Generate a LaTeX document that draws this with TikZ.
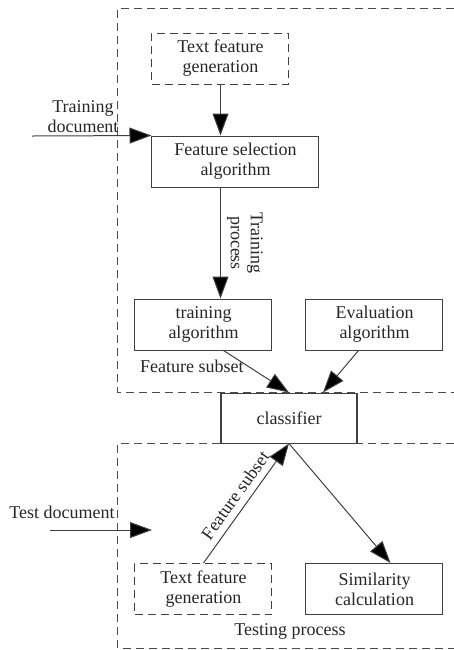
\documentclass[tikz,border=0pt]{standalone}
\usepackage{fontspec}
\setmainfont{Liberation Serif}
\usetikzlibrary{arrows.meta}

\begin{document}
\begin{tikzpicture}[x=0.5pt,y=-0.5pt,
  every node/.style={font=\fontsize{9}{10}\selectfont,text=black!85},
  block/.style={draw=black!75,line width=0.5pt,align=center,inner sep=2pt,
    minimum width=68.5pt,minimum height=25.5pt},
  phase/.style={draw=black!70,line width=0.5pt,dash pattern=on 4pt off 2.5pt},
  flow/.style={draw=black!75,line width=0.5pt,-{Triangle[length=11pt,width=8pt,fill=black]}}
]
  \useasboundingbox (0,0) rectangle (454,650);
  % training and testing phases
  \draw[phase] (454,8) -- (118,8) -- (118,392) -- (454,392);
  \draw[phase] (454,443) -- (118,443) -- (118,648) -- (454,648);
  \node[block,dash pattern=on 4pt off 2.5pt] (tfgA) at (220.5,58.5) {Text feature\\generation};
  \node[block,minimum width=83.5pt] (fsa) at (235.5,161.5) {Feature selection\\algorithm};
  \node[block] (tra) at (203.5,324.5) {training\\algorithm};
  \node[block] (eva) at (374.5,324.5) {Evaluation\\algorithm};
  \node[block,minimum width=68pt,minimum height=25pt] (cls) at (289,418) {classifier};
  \node[block,dash pattern=on 4pt off 2.5pt] (tfgB) at (203.5,589) {Text feature\\generation};
  \node[block] (sim) at (374.5,589) {Similarity\\calculation};
  % labels
  \node[align=center] (trdoc) at (83,117) {Training\\document};
  \node (tedoc) at (62,512) {Test document};
  \node[anchor=west] (fsub) at (133,366) {Feature subset};
  \node (tproc) at (290,631) {Testing process};
  \coordinate (trin) at (32,136);
  \coordinate (tein) at (50,530);
  \coordinate (teend) at (152,530);
  % arrows
  \draw[flow] (trin) -- (fsa.north west);
  \draw[flow] (tfgA) -- (tfgA |- fsa.north);
  \draw[flow] (tfgA |- fsa.south) -- node[midway,anchor=south,rotate=-90,align=center,inner sep=3pt] {Training\\process} (tfgA |- tra.north);
  \draw[flow] ([xshift=10pt]tra.south) -- (cls.north);
  \draw[flow] ([xshift=-8pt]eva.south) -- ([xshift=17pt]cls.north);
  \draw[flow] (tfgB.north) -- node[midway,sloped,above] {Feature subset} (cls.south);
  \draw[flow] (cls.south) -- ([xshift=8pt]sim.north);
  \draw[flow] (tein) -- (teend);
\end{tikzpicture}
\end{document}
